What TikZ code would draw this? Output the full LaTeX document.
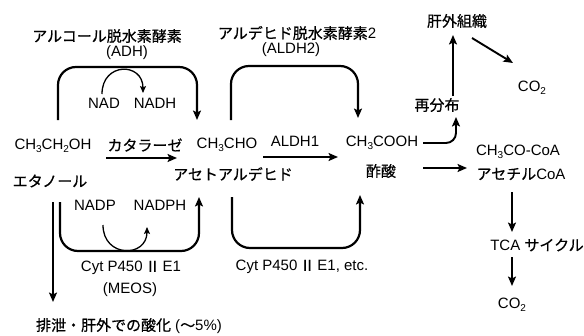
\documentclass[tikz,border=0pt]{standalone}
\usepackage{fontspec}
\setmainfont{Liberation Sans}
\newfontfamily\jp[FakeBold=0.6]{Noto Sans CJK JP}
\usetikzlibrary{arrows.meta}
\newcommand\sbs[1]{\raisebox{-0.35ex}{\fontsize{10}{10}\selectfont #1}}
\begin{document}
\begin{tikzpicture}[x=1pt,y=-1pt,
  lbl/.style={inner sep=0pt, font=\fontsize{15}{18}\selectfont},
  jl/.style={inner sep=0pt, font=\fontsize{15}{18}\selectfont\jp},
  arr/.style={line width=1.9pt, -{Stealth[length=9.5pt,width=8pt,inset=2pt]}},
  brk/.style={arr, line width=2.2pt, rounded corners=18pt},
  sarr/.style={line width=1.3pt, -{Stealth[length=7pt,width=6pt,inset=1.5pt]}}]
\useasboundingbox (0,0) rectangle (584,335);
% labels
\node[jl] (adh) at (107,36) {アルコール脱水素酵素};
\node[lbl] (adhs) at (127,53) {(ADH)};
\node[jl] (aldh2) at (297,33) {アルデヒド脱水素酵素{\rmfamily 2}};
\node[lbl] (aldh2s) at (291,50) {(ALDH2)};
\node[lbl] (nad) at (104,103) {NAD};
\node[lbl] (nadh) at (155,103) {NADH};
\node[lbl] (eth) at (53,146) {CH\sbs{3}CH\sbs{2}OH};
\node[jl] (cat) at (145,145) {カタラーゼ};
\node[lbl] (ald) at (227,145) {CH\sbs{3}CHO};
\node[lbl] (aldh1) at (295,141) {ALDH1};
\node[lbl] (ace) at (382,143) {CH\sbs{3}COOH};
\node[jl] (redis) at (437,105) {再分布};
\node[jl] (ext) at (457,21) {肝外組織};
\node[lbl] (co2a) at (532,88) {CO\sbs{2}};
\node[lbl] (acoa) at (518,152) {CH\sbs{3}CO-CoA};
\node[jl] (ethj) at (50,181) {エタノール};
\node[jl] (aldj) at (233,174) {アセトアルデヒド};
\node[jl] (acej) at (381,171) {酢酸};
\node[lbl] (acoaj) at (521,174) {{\jp アセチル}CoA};
\node[lbl] (nadp) at (95,205) {NADP};
\node[lbl] (nadph) at (160,205) {NADPH};
\node[lbl] (tca) at (537,245) {TCA {\jp サイクル}};
\node[lbl] (cyt1) at (131,268) {Cyt P450\,{\jp Ⅱ}\,E1};
\node[lbl] (meos) at (130,290) {(MEOS)};
\node[lbl] (cyt2) at (302,267) {Cyt P450\,{\jp Ⅱ}\,E1, etc.};
\node[lbl] (co2b) at (512,305) {CO\sbs{2}};
\node[lbl] (excr) at (129,326) {{\jp 排泄・肝外での酸化} ({\jp ～}5\%)};
% connector end points
\coordinate (b1s) at (58,120);  \coordinate (b1m) at (127,67);  \coordinate (b1e) at (197,120);
\coordinate (b2s) at (231,120); \coordinate (b2m) at (295,66);  \coordinate (b2e) at (358,118);
\coordinate (b3s) at (60,202);  \coordinate (b3m) at (130,251); \coordinate (b3e) at (199,197);
\coordinate (b4s) at (232,197); \coordinate (b4m) at (296,248); \coordinate (b4e) at (360,195);
\coordinate (c1s) at (106,158); \coordinate (c1e) at (177,158);
\coordinate (c2s) at (263,157); \coordinate (c2e) at (338,157);
\coordinate (c3s) at (423,143); \coordinate (c3e) at (456,117);
\coordinate (c4s) at (453,96);  \coordinate (c4e) at (453,35);
\coordinate (c5s) at (472,38);  \coordinate (c5e) at (513,63);
\coordinate (c6s) at (423,168); \coordinate (c6e) at (467,168);
\coordinate (c7s) at (512,192); \coordinate (c7e) at (512,232);
\coordinate (c8s) at (512,257); \coordinate (c8e) at (512,286);
\coordinate (c9s) at (53,202);  \coordinate (c9e) at (53,302);
\coordinate (n1s) at (102,94);  \coordinate (n1e) at (143,93);
\coordinate (n2s) at (103,225); \coordinate (n2e) at (147,227);
% brackets
\draw[brk] (b1s) |- (b1m) -| (b1e);
\draw[brk] (b2s) |- (b2m) -| (b2e);
\draw[brk] (b3s) |- (b3m) -| (b3e);
\draw[brk] (b4s) |- (b4m) -| (b4e);
% cofactor arcs
\draw[sarr] (n1s) .. controls (102,62) and (143,62) .. (n1e);
\draw[sarr] (n2s) .. controls (103,258) and (147,258) .. (n2e);
% straight arrows
\draw[arr] (c1s) -- (c1e);
\draw[arr] (c2s) -- (c2e);
\draw[arr, rounded corners=10pt] (c3s) -| (c3e);
\draw[arr] (c4s) -- (c4e);
\draw[arr] (c5s) -- (c5e);
\draw[arr] (c6s) -- (c6e);
\draw[arr] (c7s) -- (c7e);
\draw[arr] (c8s) -- (c8e);
\draw[arr] (c9s) -- (c9e);
\end{tikzpicture}
\end{document}
